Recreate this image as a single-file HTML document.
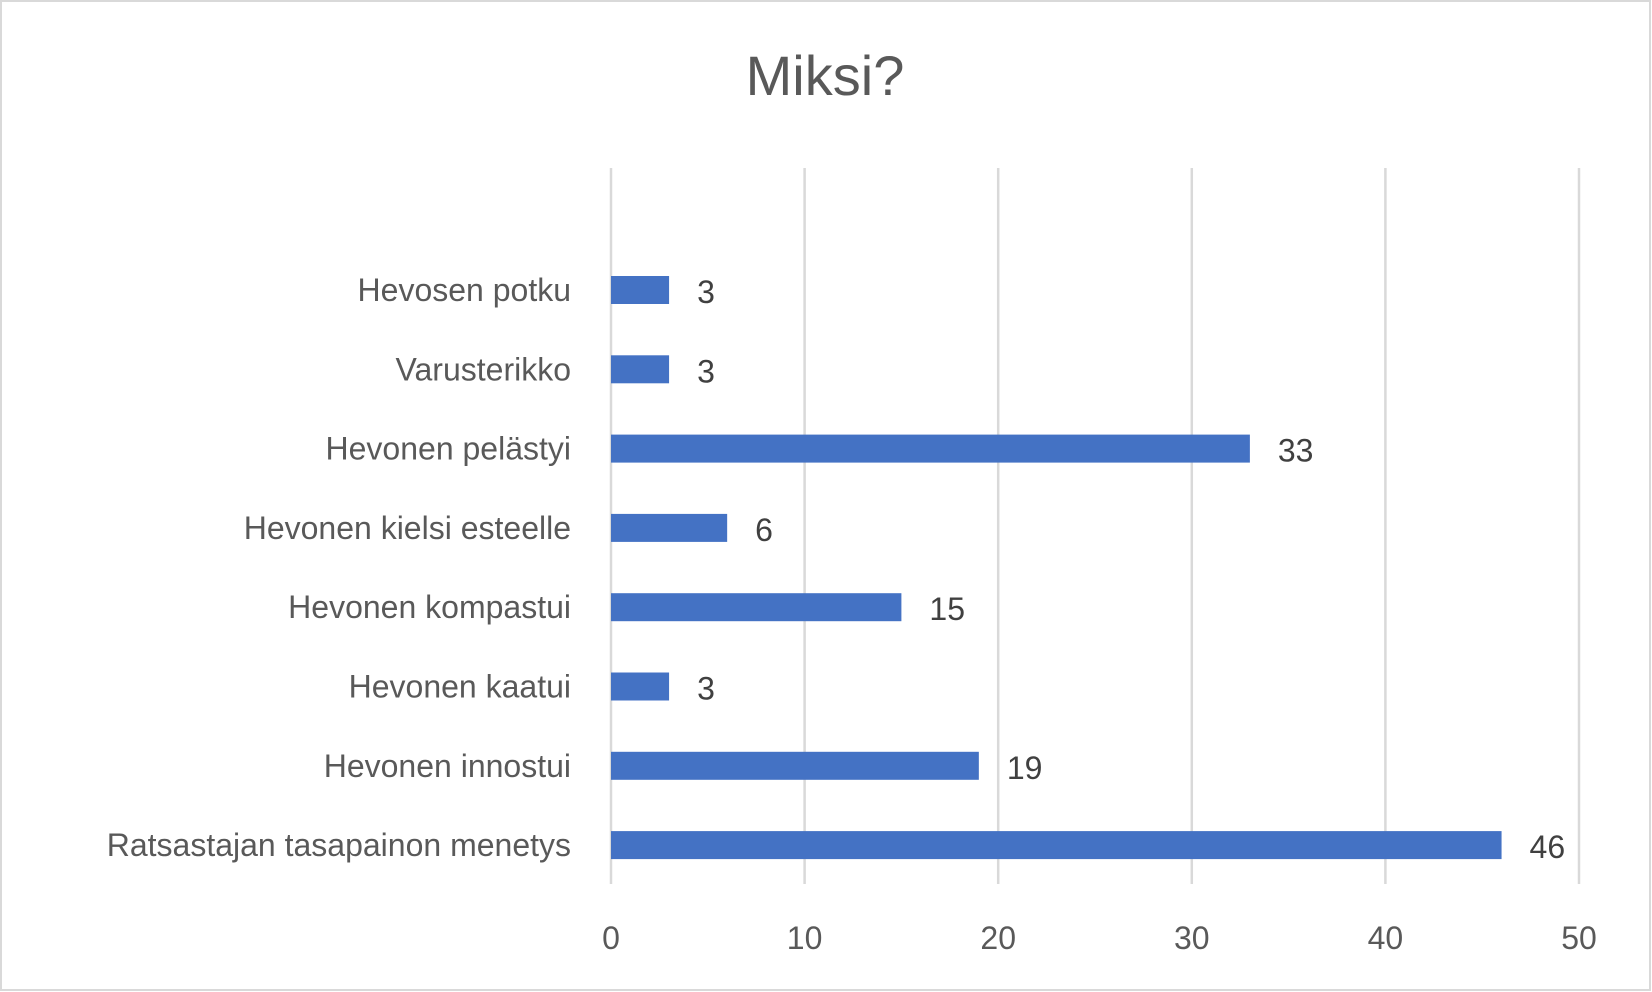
<!DOCTYPE html>
<html><head><meta charset="utf-8"><style>
html,body{margin:0;padding:0;background:#fff;}
svg{display:block;font-family:"Liberation Sans",sans-serif;}
</style></head><body>
<svg id="chart" width="1652" height="992">
<rect x="1" y="1" width="1649" height="989" fill="#fff" stroke="#d9d9d9" stroke-width="2"/>
<text x="825" y="95" text-anchor="middle" font-size="56" fill="#595959">Miksi?</text>
<g id="grid"></g><g id="bars"></g><g id="labels"></g>
</svg>
<script>
const categories = ["Hevosen potku","Varusterikko","Hevonen pelästyi","Hevonen kielsi esteelle","Hevonen kompastui","Hevonen kaatui","Hevonen innostui","Ratsastajan tasapainon menetys"];
const values = [3,3,33,6,15,3,19,46];
const ticks = [0,10,20,30,40,50];
const NS="http://www.w3.org/2000/svg";
const x0=611, x1=1579, xmax=50, yTop=168, yBot=884;
const firstY=290, step=79.3, barH=28;
function xs(v){return x0+(v/xmax)*(x1-x0);}
function ys(i){return firstY+i*step;}
function mk(tag,attrs,parent){const e=document.createElementNS(NS,tag);for(const k in attrs)e.setAttribute(k,attrs[k]);document.getElementById(parent).appendChild(e);return e;}
ticks.forEach(t=>{
  const l=mk('line',{x1:xs(t),x2:xs(t),y1:yTop,y2:yBot,stroke:'#d9d9d9','stroke-width':2.5},'grid');
  
  
  const tx=mk('text',{x:xs(t),y:949,'text-anchor':'middle','font-size':32,fill:'#595959'},'labels');
  tx.textContent=t;
  
  
});
categories.forEach((c,i)=>{
  const y=ys(i);
  const r=mk('rect',{x:x0,y:y-barH/2,width:xs(values[i])-x0,height:barH,fill:'#4472c4'},'bars');
  
  
  const lab=mk('text',{x:571,y:y+11,'text-anchor':'end','font-size':32,fill:'#595959'},'labels');
  lab.textContent=c;
  
  
  const v=mk('text',{x:xs(values[i])+28,y:y+13,'font-size':32,fill:'#404040'},'labels');
  v.textContent=values[i];
  
  
});
</script>
</body></html>
